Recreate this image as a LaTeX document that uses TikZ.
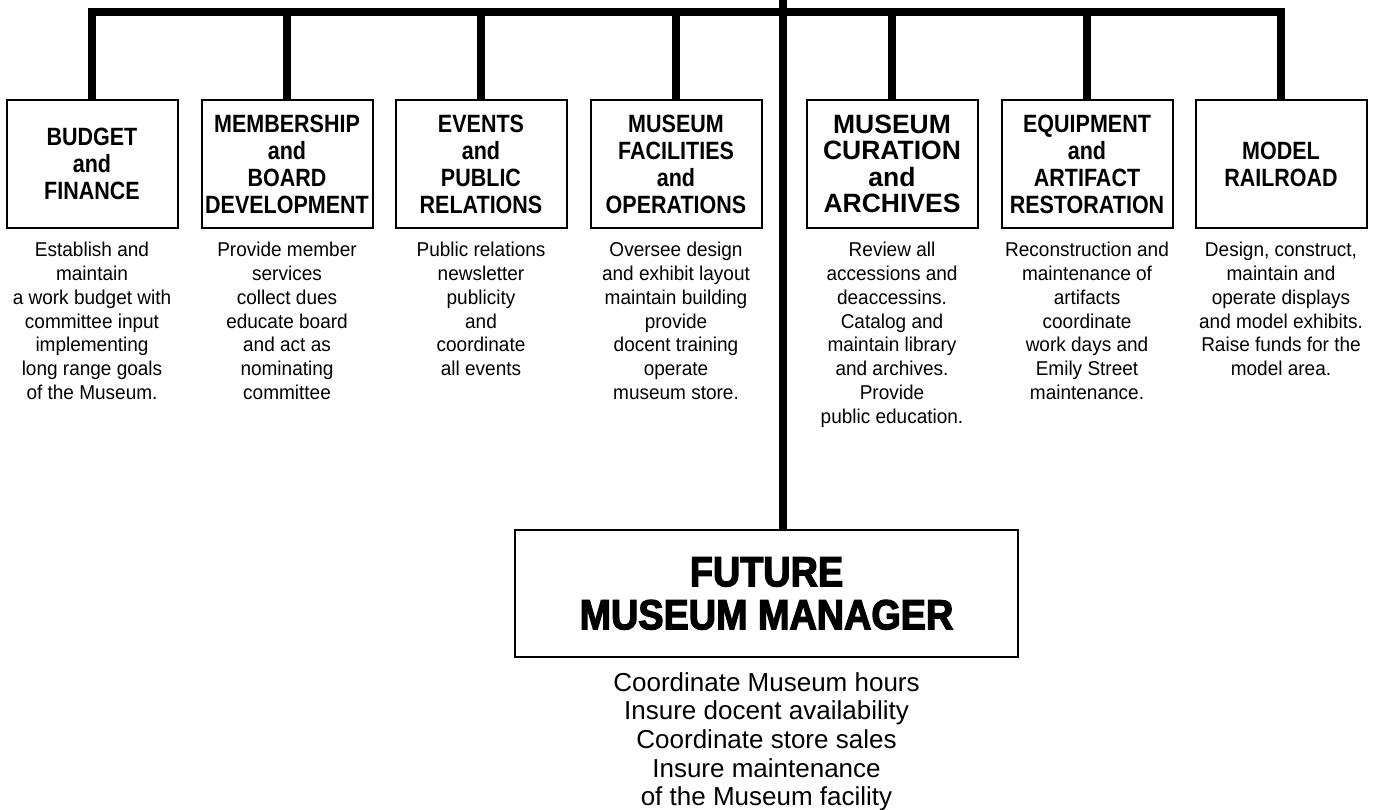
\documentclass[tikz,border=0pt]{standalone}
\usepackage{fontspec}
\usepackage{tikz}
\usetikzlibrary{positioning}
\setmainfont{Liberation Sans}
\newfontfamily\boxfont{Liberation Sans}[FakeStretch=0.86]
\newfontfamily\notefont{Liberation Sans}[FakeStretch=0.95]
\newfontfamily\chieffont{Liberation Sans Bold}[FakeBold=3,FakeStretch=0.9]

\begin{document}
\begin{tikzpicture}[x=1pt,y=-1pt,
  unit/.style={draw, line width=2pt, minimum width=171pt, minimum height=128pt, inner sep=0pt, align=center, font=\boxfont\bfseries\fontsize{25}{27}\selectfont},
  notes/.style={align=center, inner sep=0pt, font=\notefont\fontsize{20}{23.8}\selectfont},
  link/.style={line width=8pt}]
\useasboundingbox (0,0) rectangle (1373,810);

\node [unit] (BUDGET) at (92,164) {BUDGET \\ and \\ FINANCE};
\node [unit] (MEMBER) at (287,164) {MEMBERSHIP \\ and \\ BOARD \\ DEVELOPMENT};
\node [unit] (EVENTS) at (481,164) {EVENTS \\ and \\ PUBLIC \\ RELATIONS};
\node [unit] (FACIL) at (676,164) {MUSEUM \\ FACILITIES \\ and \\ OPERATIONS};
\node [unit, font=\bfseries\fontsize{26.5}{26.5}\selectfont] (CURATE) at (892,164) {MUSEUM \\ CURATION \\ and \\ ARCHIVES};
\node [unit] (EQUIP) at (1087,164) {EQUIPMENT \\ and \\ ARTIFACT \\ RESTORATION};
\node [unit] (RAIL) at (1281,164) {MODEL \\ RAILROAD};

\node [notes, below=13pt of BUDGET] (BUDGETNOTE) {Establish and \\ maintain \\ a work budget with \\ committee input \\ implementing \\ long range goals \\ of the Museum.};
\node [notes, below=13pt of MEMBER] (MEMBERNOTE) {Provide member \\ services \\ collect dues \\ educate board \\ and act as \\ nominating \\ committee};
\node [notes, below=13pt of EVENTS] (EVENTSNOTE) {Public relations \\ newsletter \\ publicity \\ and \\ coordinate \\ all events};
\node [notes, below=13pt of FACIL] (FACILNOTE) {Oversee design \\ and exhibit layout \\ maintain building \\ provide \\ docent training \\ operate \\ museum store.};
\node [notes, below=13pt of CURATE] (CURATENOTE) {Review all \\ accessions and \\ deaccessins. \\ Catalog and \\ maintain library \\ and archives. \\ Provide \\ public education.};
\node [notes, below=13pt of EQUIP] (EQUIPNOTE) {Reconstruction and \\ maintenance of \\ artifacts \\ coordinate \\ work days and \\ Emily Street \\ maintenance.};
\node [notes, below=13pt of RAIL] (RAILNOTE) {Design, construct, \\ maintain and \\ operate displays \\ and model exhibits. \\ Raise funds for the \\ model area.};

\node [draw, line width=2.5pt, minimum width=503pt, minimum height=127pt, inner sep=0pt, align=center, font=\chieffont\fontsize{42}{43}\selectfont] (MGR) at (766.5,593.5) {FUTURE \\ MUSEUM MANAGER};
\node [align=center, inner sep=0pt, font=\fontsize{26}{28.6}\selectfont, below=14pt of MGR] (MGRNOTE) {Coordinate Museum hours \\ Insure docent availability \\ Coordinate store sales \\ Insure maintenance \\ of the Museum facility};

\coordinate (TOP) at (783,0);
\coordinate (HUB) at (783,12);
\draw [link] (TOP) -- (TOP |- MGR.north);
\draw [link] (BUDGET.north) |- (HUB);
\draw [link] (MEMBER.north) |- (HUB);
\draw [link] (EVENTS.north) |- (HUB);
\draw [link] (FACIL.north) |- (HUB);
\draw [link] (CURATE.north) |- (HUB);
\draw [link] (EQUIP.north) |- (HUB);
\draw [link] (RAIL.north) |- (HUB);
\end{tikzpicture}
\end{document}
